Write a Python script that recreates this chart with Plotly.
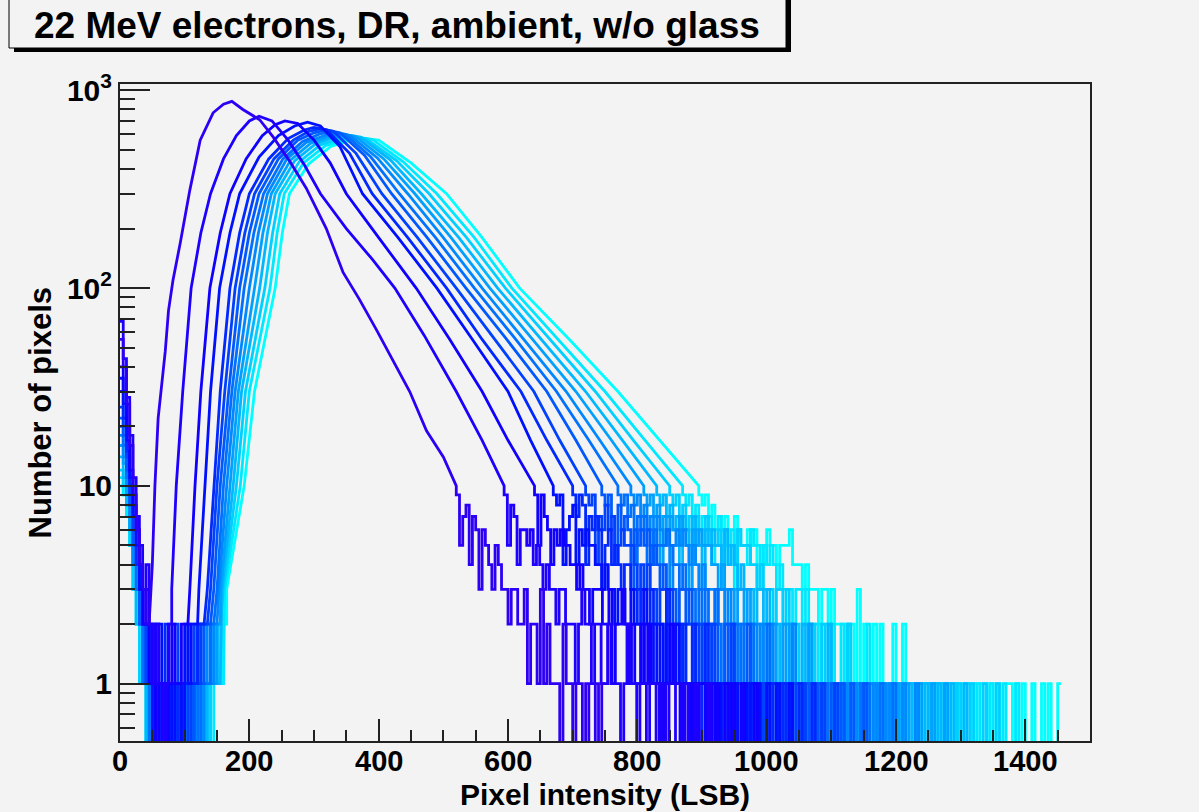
import plotly.graph_objects as go

# ---------------- data ----------------
BIN = 5  # LSB per histogram bin in low-count regions

x_tick_vals = [0, 200, 400, 600, 800, 1000, 1200, 1400]
y_tick_vals = [1, 10, 100, 1000]
y_tick_text = ["1", "10", "10<sup>2</sup>", "10<sup>3</sup>"]

series_colors = ["#2d00f5", "#1e00ff", "#1000ff", "#0010ff", "#0028ff", "#0040ff", "#0058ff",
                 "#0070ff", "#0088ff", "#00a0ff", "#00b8ff", "#00d0ff", "#00e8ff", "#00ffff"]

# low-count head of each histogram (5-LSB bins from 0)
s1_head = [55, 40, 26, 16, 9, 6, 4, 3, 2]
s2_head = [68, 44, 28, 18, 11, 7, 5, 3, 4, 2, 1, 2, 1, 0, 1, 2]
s3_head = [40, 30, 20, 12, 8, 6, 4, 2, 3, 1, 2, 0, 1, 1, 0, 1, 2, 1, 1, 2, 2]
s4_head = [35, 26, 17, 11, 7, 5, 3, 3, 2, 1, 0, 1, 2, 0, 1, 1, 0, 1, 1, 0, 2, 1, 2, 2]
s5_head = [30, 22, 15, 10, 7, 4, 3, 2, 2, 1, 1, 0, 1, 0, 2, 1, 0, 1, 0, 1, 1, 2, 1, 1, 2, 2]
s6_head = [25, 20, 14, 9, 6, 4, 3, 2, 1, 2, 0, 1, 1, 0, 1, 0, 1, 2, 0, 1, 1, 0, 1, 2, 1, 2, 2]
s7_head = [22, 18, 12, 8, 5, 4, 2, 2, 1, 1, 0, 2, 0, 1, 0, 1, 1, 0, 1, 0, 1, 1, 0, 1, 2, 1, 2, 2]
s8_head = [20, 16, 11, 8, 5, 3, 3, 1, 2, 0, 1, 1, 0, 1, 0, 0, 1, 1, 0, 1, 0, 1, 1, 1, 0, 2, 1, 1, 2]
s9_head = [18, 14, 10, 7, 4, 3, 2, 2, 1, 0, 1, 0, 1, 1, 0, 1, 0, 1, 0, 0, 1, 1, 0, 1, 1, 0, 1, 2, 1, 2]
s10_head = [16, 13, 9, 6, 4, 3, 2, 1, 1, 1, 0, 1, 0, 0, 1, 0, 1, 1, 0, 1, 0, 1, 0, 1, 1, 0, 1, 1, 2, 1, 2]
s11_head = [14, 11, 8, 6, 4, 2, 2, 1, 0, 1, 1, 0, 1, 0, 1, 0, 0, 1, 1, 0, 1, 0, 1, 1, 0, 1, 0, 1, 1, 2, 1]
s12_head = [12, 10, 8, 5, 3, 3, 1, 2, 1, 0, 1, 0, 0, 1, 1, 0, 1, 0, 1, 0, 1, 1, 0, 1, 0, 1, 1, 0, 1, 1, 2]
s13_head = [11, 9, 7, 5, 3, 2, 2, 1, 1, 0, 1, 1, 0, 1, 0, 1, 0, 1, 0, 1, 1, 0, 0, 1, 1, 0, 1, 1, 0, 1, 2, 1]
s14_head = [10, 9, 7, 5, 3, 2, 1, 1, 0, 1, 0, 1, 1, 0, 1, 0, 1, 0, 0, 1, 1, 0, 1, 0, 1, 1, 0, 1, 1, 1, 2, 1, 2]

# main body (pixel intensity, number of pixels)
s1_x = [50, 54, 59, 65, 70, 75, 82, 93, 108, 124, 144, 160, 173, 190, 216, 237, 262, 288, 319, 345, 370, 396, 420, 448, 474, 500, 520]
s1_y = [4, 10, 22, 33, 48, 77, 110, 168, 313, 560, 770, 850, 880, 800, 710, 580, 440, 320, 200, 120, 88, 62, 44, 30, 19, 14, 10]
s2_x = [80, 87, 97, 110, 125, 140, 160, 180, 200, 215, 235, 260, 285, 310, 350, 390, 425, 470, 520, 560, 594]
s2_y = [3, 10, 30, 100, 190, 300, 450, 590, 700, 740, 700, 560, 420, 300, 200, 140, 100, 58, 30, 17, 10]
s3_x = [108, 116, 125, 139, 155, 170, 195, 220, 240, 255, 275, 300, 325, 350, 400, 458, 510, 560, 600, 641]
s3_y = [3, 10, 30, 100, 190, 300, 450, 590, 670, 700, 680, 560, 430, 300, 180, 100, 55, 30, 17, 10]
s4_x = [122, 131, 140, 154, 170, 185, 215, 245, 270, 290, 310, 340, 375, 430, 490, 545, 600, 635, 670]
s4_y = [3, 10, 30, 100, 190, 300, 460, 590, 660, 690, 660, 520, 300, 180, 100, 55, 30, 17, 10]
s5_x = [135, 145, 155, 170, 185, 200, 230, 260, 285, 300, 320, 355, 390, 445, 505, 560, 620, 660, 700]
s5_y = [3, 10, 30, 100, 190, 300, 450, 570, 630, 650, 630, 480, 300, 180, 100, 55, 30, 17, 10]
s6_x = [140, 150, 162, 178, 193, 208, 238, 268, 292, 310, 330, 365, 405, 460, 520, 580, 640, 680, 720]
s6_y = [3, 10, 30, 100, 190, 300, 450, 560, 620, 640, 620, 480, 300, 180, 100, 55, 30, 17, 10]
s7_x = [145, 155, 168, 185, 200, 215, 245, 275, 300, 318, 340, 378, 420, 475, 535, 598, 660, 705, 745]
s7_y = [3, 10, 30, 100, 190, 300, 450, 560, 610, 630, 610, 470, 300, 180, 100, 55, 30, 17, 10]
s8_x = [150, 160, 173, 192, 207, 222, 252, 282, 308, 326, 348, 388, 432, 488, 548, 612, 675, 725, 770]
s8_y = [3, 10, 30, 100, 190, 300, 450, 550, 600, 620, 600, 460, 300, 180, 100, 55, 30, 17, 10]
s9_x = [153, 165, 178, 200, 214, 228, 258, 288, 316, 334, 356, 398, 445, 500, 560, 625, 690, 742, 790]
s9_y = [3, 10, 30, 100, 190, 300, 450, 545, 590, 610, 590, 455, 300, 180, 100, 55, 30, 17, 10]
s10_x = [156, 170, 183, 208, 221, 234, 264, 295, 324, 342, 364, 408, 456, 512, 572, 638, 705, 760, 810]
s10_y = [3, 10, 30, 100, 190, 300, 445, 540, 585, 600, 585, 450, 300, 180, 100, 55, 30, 17, 10]
s11_x = [158, 175, 188, 216, 228, 240, 270, 302, 332, 350, 372, 418, 466, 524, 584, 652, 720, 777, 830]
s11_y = [3, 10, 30, 100, 190, 300, 440, 535, 580, 595, 580, 445, 300, 180, 100, 55, 30, 17, 10]
s12_x = [160, 180, 194, 224, 236, 247, 277, 310, 340, 358, 380, 428, 478, 536, 596, 665, 735, 794, 850]
s12_y = [3, 10, 30, 100, 190, 300, 435, 530, 570, 585, 570, 440, 300, 180, 100, 55, 30, 17, 10]
s13_x = [162, 186, 200, 232, 243, 254, 284, 318, 348, 366, 390, 438, 490, 548, 606, 678, 750, 812, 870]
s13_y = [3, 10, 30, 100, 190, 300, 430, 525, 565, 580, 565, 435, 300, 180, 100, 55, 30, 17, 10]
s14_x = [165, 192, 208, 240, 251, 262, 292, 326, 356, 375, 400, 450, 505, 560, 618, 695, 770, 835, 895]
s14_y = [3, 10, 30, 100, 190, 300, 425, 520, 560, 570, 560, 430, 300, 180, 100, 55, 30, 17, 10]

# low-count tails (5-LSB bins, one digit per bin, starting at the last body point)
s1_tail = "9578476365" + "435433233223122131211102110110100101"
s2_tail = "958746656" + "45434332332221232212211211101211011011010100110100100010"
s3_tail = "9597646565" + "5443433233322312232121121211101121101101011010100101001000100"
s4_tail = "989467846565" + "544343323322322132121212112111011110110101101001010100100100010"
s5_tail = "979847676356" + "45434433232232221312212112110211101101101010110010100101001000100"
s6_tail = "98947686745655" + "5434343323323222122121211211101211101101010110101001010010010001000"
s7_tail = "989748676365656" + "454343332332322212212112121101211101101101010110100101001001001000100"
s8_tail = "9897847674565556" + "54434333232322321221212112111021110110110101011010010100100101000100010"
s9_tail = "989786747656356565" + "4543433323323222122121211211110121101101101010110100101001001010001000100"
s10_tail = "98978476765765365655" + "544343332332322212212112121110121101101101011010100101001010010001000100010"
s11_tail = "9897867476576536565546" + "45434333233232221221211212111012110110110101101010010100101001000100010001000"
s12_tail = "989786747657655636554655" + "5443433323323222122121121211101211011011010110101001010010100100010001000100010"
s13_tail = "98978676745765563655465545" + "454343332332322212212112121110121101101101011010100101001010010001000100010001000"
s14_tail = "98978676745765565635465545556" + "44434333233232221221312112121112112111011110111011010110101101010011010100100101001"

heads = [s1_head, s2_head, s3_head, s4_head, s5_head, s6_head, s7_head,
         s8_head, s9_head, s10_head, s11_head, s12_head, s13_head, s14_head]
bodies_x = [s1_x, s2_x, s3_x, s4_x, s5_x, s6_x, s7_x, s8_x, s9_x, s10_x, s11_x, s12_x, s13_x, s14_x]
bodies_y = [s1_y, s2_y, s3_y, s4_y, s5_y, s6_y, s7_y, s8_y, s9_y, s10_y, s11_y, s12_y, s13_y, s14_y]
tails = [s1_tail, s2_tail, s3_tail, s4_tail, s5_tail, s6_tail, s7_tail,
         s8_tail, s9_tail, s10_tail, s11_tail, s12_tail, s13_tail, s14_tail]

# ---------------- figure ----------------
ZERO_DRAW = 0.3  # empty bins are drawn down to (below) the axis floor like ROOT does
BG = "#f3f3f3"
FONT = "Liberation Sans, Arial, Helvetica, sans-serif"
W, H = 1199, 812
ML, MR, MT, MB = 120, 109, 84, 71


def vis(c):
    return c if c > 0 else ZERO_DRAW


def build(head, bx, by, tail):
    xs, ys = [], []
    for i, c in enumerate(head):
        xs += [i * BIN, (i + 1) * BIN]
        ys += [vis(c), vis(c)]
    xs += list(bx)
    ys += list(by)
    start = bx[-1]
    for i, ch in enumerate(tail):
        c = int(ch)
        xs += [start + i * BIN, start + (i + 1) * BIN]
        ys += [vis(c), vis(c)]
    return xs, ys


fig = go.Figure()
order = list(range(len(heads)))[::-1]  # light (cyan) first, dark blue on top
for k in order:
    xs, ys = build(heads[k], bodies_x[k], bodies_y[k], tails[k])
    fig.add_trace(go.Scatter(x=xs, y=ys, mode="lines",
                             line=dict(color=series_colors[k], width=2.8),
                             hoverinfo="skip", showlegend=False))

pw, ph = W - ML - MR, H - MT - MB


def px_x(p):
    return (p - ML) / pw


def px_y(p):
    return (H - MB - p) / ph


# title pave with ROOT-like shadow
fig.add_shape(type="rect", xref="paper", yref="paper", x0=px_x(14), x1=px_x(791), y0=px_y(52), y1=px_y(-6),
              fillcolor="black", line=dict(width=0), layer="above")
fig.add_shape(type="rect", xref="paper", yref="paper", x0=px_x(9), x1=px_x(786), y0=px_y(48), y1=px_y(-6),
              fillcolor=BG, line=dict(color="black", width=1), layer="above")
fig.add_annotation(text="22 MeV electrons, DR, ambient, w/o glass", xref="paper", yref="paper",
                   x=px_x(397), y=px_y(26), xanchor="center", yanchor="middle", showarrow=False,
                   font=dict(family=FONT, size=37, color="black", weight="bold"))
fig.add_annotation(text="Pixel intensity (LSB)", xref="paper", yref="paper",
                   x=0.5, y=0, xanchor="center", yanchor="middle", yshift=-53, showarrow=False,
                   font=dict(family=FONT, size=30, color="black", weight="bold"))
fig.add_annotation(text="Number of pixels", xref="paper", yref="paper",
                   x=0, y=0.5, xanchor="center", yanchor="middle", xshift=-80, textangle=-90, showarrow=False,
                   font=dict(family=FONT, size=31, color="black", weight="bold"))
# x tick labels, placed at the axis values just under the frame
for v in x_tick_vals:
    fig.add_annotation(text=str(v), xref="x", yref="paper", x=v, y=0, xanchor="center", yanchor="top",
                       yshift=-2, showarrow=False,
                       font=dict(family=FONT, size=29, color="black", weight="bold"))

fig.update_layout(
    width=W, height=H,
    margin=dict(l=ML, r=MR, t=MT, b=MB),
    paper_bgcolor=BG, plot_bgcolor=BG,
    showlegend=False,
    xaxis=dict(range=[0, 1500], tickvals=x_tick_vals, showticklabels=False,
               ticks="inside", ticklen=22, tickwidth=2,
               tickcolor="#222", showline=True, linecolor="#222", linewidth=2, mirror=True,
               showgrid=False, zeroline=False,
               minor=dict(ticks="inside", ticklen=11, tickwidth=2, tickcolor="#222", dtick=50, showgrid=False)),
    yaxis=dict(type="log", range=[-0.29, 3.032], tickvals=y_tick_vals, ticktext=y_tick_text,
               ticks="inside", ticklen=30, tickwidth=2, tickcolor="#222",
               showline=True, linecolor="#222", linewidth=2, mirror=True,
               showgrid=False, zeroline=False,
               tickfont=dict(family=FONT, size=30, color="black", weight="bold"),
               minor=dict(ticks="inside", ticklen=15, tickwidth=2, tickcolor="#222", dtick="D1", showgrid=False)),
)

fig.write_html("out.html", config={"displayModeBar": False},
               post_script="document.body.style.margin='0';")
